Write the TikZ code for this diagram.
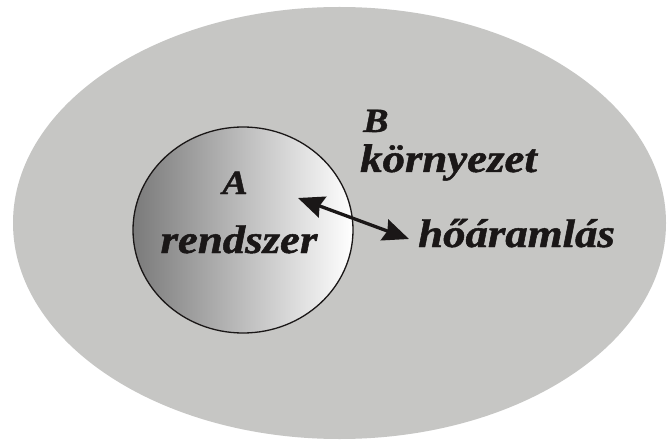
\documentclass[tikz,border=0pt]{standalone}
\usepackage{fontspec}
\setmainfont{Liberation Serif}[BoldItalicFeatures={FakeBold=1.2}]
\usetikzlibrary{shapes.geometric,arrows.meta}
\definecolor{envgray}{HTML}{C6C6C4}
\definecolor{inkblack}{HTML}{1A1717}
\tikzset{
  lbl/.style={inner sep=0pt, font=\fontsize{40}{42}\selectfont\bfseries\itshape, text=inkblack},
  caplbl/.style={inner sep=0pt, font=\fontsize{34}{36}\selectfont\bfseries\itshape, text=inkblack},
  flow/.style={line width=3.3pt, draw=inkblack, {Stealth[length=26pt,width=22pt,inset=3pt]}-{Stealth[length=26pt,width=22pt,inset=3pt]}}
}
\newcommand{\widetxt}[1]{\scalebox{1.12}[1]{#1}}
\begin{document}
\begin{tikzpicture}[x=1pt,y=-1pt]
\useasboundingbox (0,0) rectangle (668,446);
\fill[white] (0,0) rectangle (668,446);
\node[ellipse, fill=envgray, minimum width=653pt, minimum height=432pt, inner sep=0pt] (env) at (339.5,223) {};
\node[ellipse, draw=inkblack, line width=1.3pt, left color=black!52, right color=white, minimum width=220pt, minimum height=206pt, inner sep=0pt] (sys) at (243,230) {};
\node[caplbl, anchor=base] (A) at (235,194) {\widetxt{A}};
\node[lbl, anchor=base] (rend) at (239,253) {\widetxt{rendszer}};
\node[caplbl, anchor=base west] (B) at (363,132) {\widetxt{B}};
\node[lbl, anchor=base west] (korny) at (360,172) {\widetxt{környezet}};
\node[lbl, anchor=base west] (hoar) at (418,247) {\widetxt{hőáramlás}};
\coordinate (p1) at (298,198);
\coordinate (p2) at (409,239);
\draw[flow] (p1) -- (p2);
\end{tikzpicture}
\end{document}
